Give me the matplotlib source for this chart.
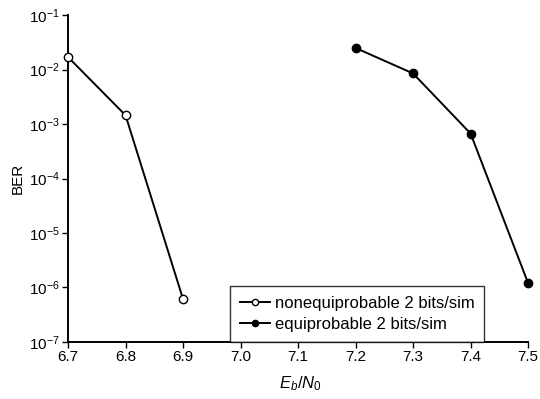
import matplotlib
matplotlib.use("Agg")
import matplotlib.pyplot as plt
from matplotlib.ticker import LogLocator, NullLocator

plt.rcParams['font.family'] = ['Liberation Sans', 'DejaVu Sans']
plt.rcParams['mathtext.fontset'] = 'custom'
plt.rcParams['mathtext.rm'] = 'Liberation Sans'
plt.rcParams['mathtext.it'] = 'Liberation Sans:italic'
plt.rcParams['mathtext.default'] = 'regular'

x_neq = [6.7, 6.8, 6.9]
ber_neq = [1.7e-2, 1.45e-3, 6.1e-7]
x_eq = [7.2, 7.3, 7.4, 7.5]
ber_eq = [2.5e-2, 8.5e-3, 6.7e-4, 1.2e-6]
xticks = [6.7, 6.8, 6.9, 7.0, 7.1, 7.2, 7.3, 7.4, 7.5]
xticklabels = ["6.7", "6.8", "6.9", "7.0", "7.1", "7.2", "7.3", "7.4", "7.5"]

fig = plt.figure(figsize=(5.4, 3.99), dpi=100)
ax = fig.add_axes([0.126, 0.143, 0.852, 0.819])

ax.plot(x_neq, ber_neq, color='black', lw=1.4, marker='o', ms=6,
        mfc='white', mec='black', mew=1.0, label='nonequiprobable 2 bits/sim', clip_on=False, zorder=3)
ax.plot(x_eq, ber_eq, color='black', lw=1.4, marker='o', ms=6,
        mfc='black', mec='black', label='equiprobable 2 bits/sim', clip_on=False, zorder=3)

ax.set_yscale('log')
ax.set_ylim(1e-7, 1e-1)
ax.set_xlim(6.7, 7.5)
ax.yaxis.set_major_locator(LogLocator(base=10, numticks=10))
ax.yaxis.set_minor_locator(NullLocator())
ax.set_xticks(xticks)
ax.set_xticklabels(xticklabels)
ax.xaxis.offsetText.set_visible(False)
ax.yaxis.offsetText.set_visible(False)

for s in ['top', 'right']:
    ax.spines[s].set_visible(False)
for s in ['left', 'bottom']:
    ax.spines[s].set_linewidth(1.4)

ax.tick_params(axis='both', direction='out', length=4, width=1.0, labelsize=11, pad=2)

ax.set_ylabel('BER', fontsize=11, labelpad=3)
ax.set_xlabel(r'$\mathit{E_b/N_0}$', fontsize=12, labelpad=3)
ax.xaxis.set_label_coords(0.505, -0.1)

leg = ax.legend(loc='lower left', bbox_to_anchor=(0.353, 0.0), fontsize=12,
                frameon=True, fancybox=False, edgecolor='black', handlelength=1.8,
                handletextpad=0.25, borderpad=0.6, labelspacing=0.35, borderaxespad=0.0,
                markerscale=0.75)
leg.get_frame().set_linewidth(1.0)

fig.savefig('out.png', dpi=100)
